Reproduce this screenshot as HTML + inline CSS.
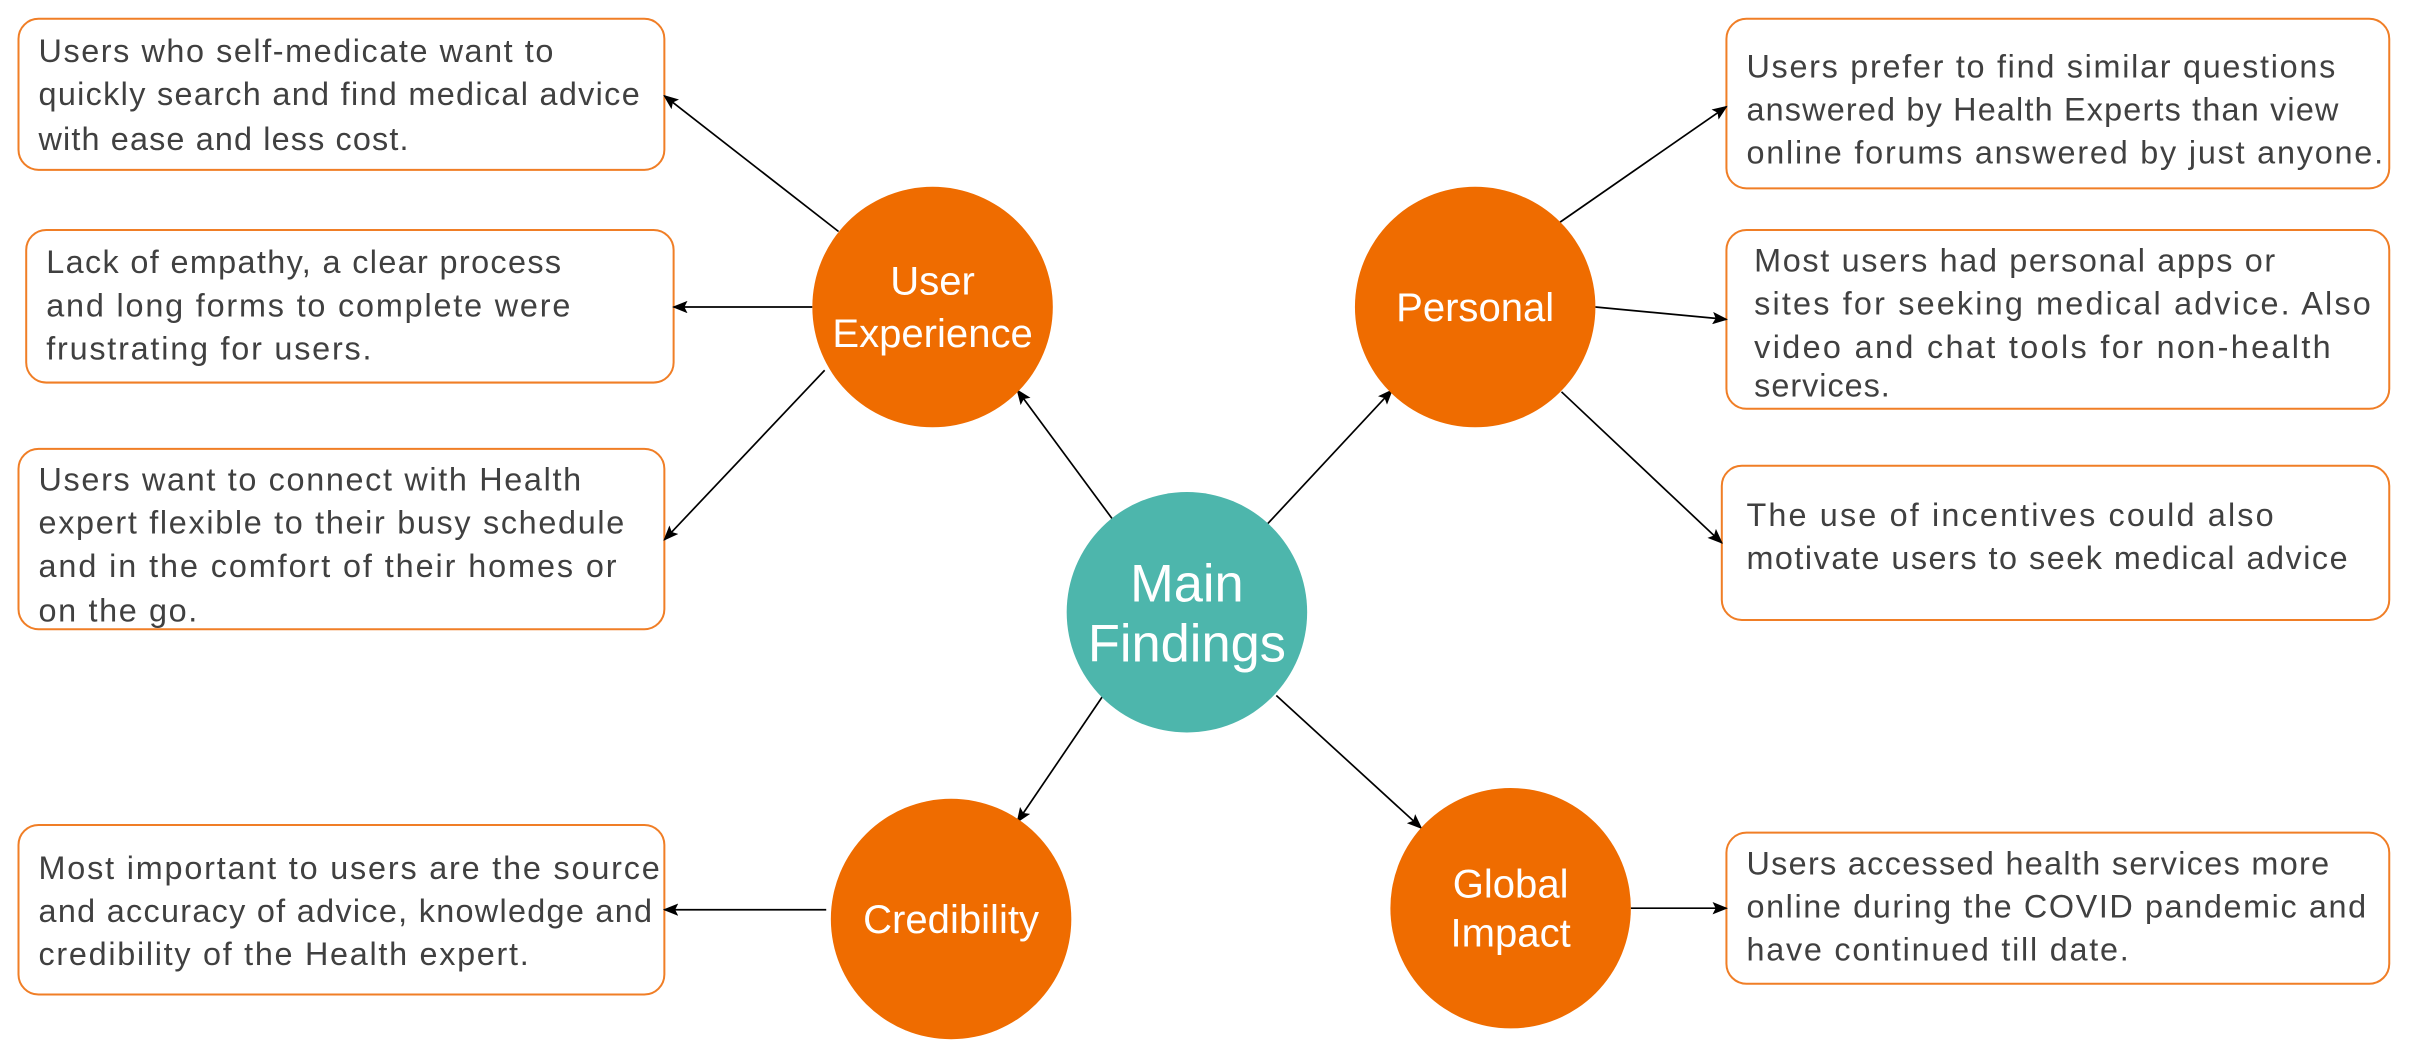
<!DOCTYPE html>
<html><head><meta charset="utf-8"><style>html,body{margin:0;padding:0;background:#fff}svg{display:block}</style></head>
<body>
<svg width="2417" height="1058" viewBox="0 0 1568 686" xmlns="http://www.w3.org/2000/svg" font-family="Liberation Sans, DejaVu Sans, sans-serif">
<defs><marker id="a" markerWidth="10" markerHeight="8" refX="9" refY="4" orient="auto" markerUnits="userSpaceOnUse"><path d="M0,0 L10,4 L0,8 L2,4 Z" fill="#000"/></marker></defs>
<g fill="#fff" stroke="#f07e26" stroke-width="1.3">
<rect x="12" y="12" width="419" height="98" rx="13"/>
<rect x="17" y="149" width="420" height="99" rx="13"/>
<rect x="12" y="291" width="419" height="117" rx="13"/>
<rect x="12" y="535" width="419" height="110" rx="13"/>
<rect x="1120" y="12" width="430" height="110" rx="13"/>
<rect x="1120" y="149" width="430" height="116" rx="13"/>
<rect x="1117" y="302" width="433" height="100" rx="13"/>
<rect x="1120" y="540" width="430" height="98" rx="13"/>
</g>
<g stroke="#000" stroke-width="1.1" marker-end="url(#a)">
<line x1="544" y1="150" x2="431" y2="62"/>
<line x1="527" y1="199" x2="437" y2="199"/>
<line x1="535" y1="240" x2="431" y2="350"/>
<line x1="722" y1="337" x2="660" y2="253"/>
<line x1="822" y1="340" x2="903" y2="253"/>
<line x1="1012" y1="144" x2="1120" y2="69"/>
<line x1="1035" y1="199" x2="1120" y2="207"/>
<line x1="1013" y1="254" x2="1117" y2="352"/>
<line x1="715" y1="452" x2="660" y2="533"/>
<line x1="828" y1="451" x2="922" y2="537"/>
<line x1="536" y1="590" x2="431" y2="590"/>
<line x1="1058" y1="589" x2="1120" y2="589"/>
</g>
<circle cx="605" cy="199" r="78" fill="#ef6c00"/>
<circle cx="957" cy="199" r="78" fill="#ef6c00"/>
<circle cx="770" cy="397" r="78" fill="#4db6ac"/>
<circle cx="617" cy="596" r="78" fill="#ef6c00"/>
<circle cx="980" cy="589" r="78" fill="#ef6c00"/>
<g fill="#fff" text-anchor="middle" font-size="26">
<text x="605" y="191">User</text><text x="605" y="225">Experience</text>
<text x="957" y="208">Personal</text>
<text x="617" y="605">Credibility</text>
<text x="980" y="582">Global</text><text x="980" y="614">Impact</text>
<text x="770" y="390" font-size="34">Main</text><text x="770" y="429" font-size="34">Findings</text>
</g>
<g fill="#404040" font-size="21">
<text x="25" y="40" textLength="334">Users who self-medicate want to</text>
<text x="25" y="68" textLength="390">quickly search and find medical advice</text>
<text x="25" y="97" textLength="240">with ease and less cost.</text>
<text x="30" y="177" textLength="334">Lack of empathy, a clear process</text>
<text x="30" y="205" textLength="340">and long forms to complete were</text>
<text x="30" y="233" textLength="211">frustrating for users.</text>
<text x="25" y="318" textLength="352">Users want to connect with Health</text>
<text x="25" y="346" textLength="380">expert flexible to their busy schedule</text>
<text x="25" y="374" textLength="375">and in the comfort of their homes or</text>
<text x="25" y="403" textLength="103">on the go.</text>
<text x="25" y="570" textLength="403">Most important to users are the source</text>
<text x="25" y="598" textLength="398">and accuracy of advice, knowledge and</text>
<text x="25" y="626" textLength="318">credibility of the Health expert.</text>
<text x="1133" y="50" textLength="382">Users prefer to find similar questions</text>
<text x="1133" y="78" textLength="384">answered by Health Experts than view</text>
<text x="1133" y="106" textLength="413">online forums answered by just anyone.</text>
<text x="1138" y="176" textLength="338">Most users had personal apps or</text>
<text x="1138" y="204" textLength="400">sites for seeking medical advice. Also</text>
<text x="1138" y="232" textLength="374">video and chat tools for non-health</text>
<text x="1138" y="257" textLength="88">services.</text>
<text x="1133" y="341" textLength="342">The use of incentives could also</text>
<text x="1133" y="369" textLength="390">motivate users to seek medical advice</text>
<text x="1133" y="567" textLength="378">Users accessed health services more</text>
<text x="1133" y="595" textLength="402">online during the COVID pandemic and</text>
<text x="1133" y="623" textLength="248">have continued till date.</text>
</g>
</svg>
</body></html>
